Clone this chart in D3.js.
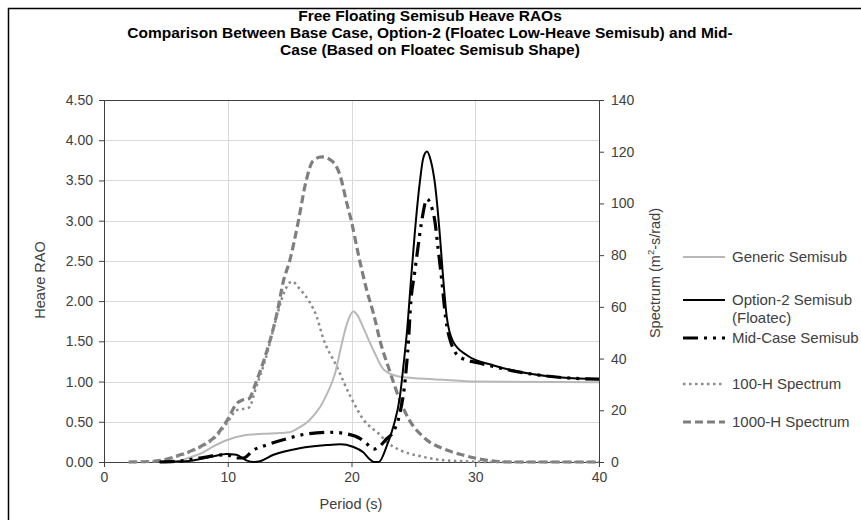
<!DOCTYPE html>
<html>
<head>
<meta charset="utf-8">
<script src="https://cdn.jsdelivr.net/npm/d3@7"></script>
<style>
  body { margin: 0; background: #fff; }
  svg { font-family: "Liberation Sans", Arial, sans-serif; }
</style>
</head>
<body>
<svg id="chart" width="861" height="520"></svg>
<script>
// Heave RAO series: [period (s), RAO]
const genericSemisub = [
  [5.5, 0], [6, 0.01], [7, 0.06], [7.75, 0.1], [8.8, 0.19], [9.9, 0.27],
  [11.25, 0.33], [12.9, 0.35], [14.2, 0.36], [15, 0.37], [15.8, 0.43],
  [16.6, 0.52], [17.45, 0.68], [18, 0.84], [18.67, 1.1], [19.2, 1.46],
  [19.7, 1.75], [20.15, 1.87], [20.5, 1.82], [20.95, 1.67], [21.8, 1.38],
  [22.6, 1.15], [23.65, 1.07], [24.5, 1.05], [26.6, 1.03], [30, 1.0], [40, 0.99]
];

const option2Semisub = [
  [4.5, 0], [6, 0.005], [7.2, 0.02], [8.8, 0.07], [9.9, 0.1], [10.7, 0.09],
  [11.5, 0.02], [12.1, 0], [12.6, 0.01], [13.7, 0.09], [15.8, 0.17],
  [18, 0.21], [19.1, 0.22], [20.1, 0.19], [20.95, 0.12], [21.5, 0.03],
  [21.8, 0], [22.2, 0], [22.85, 0.2], [23.4, 0.45], [23.9, 0.8], [24.2, 1.2],
  [24.5, 1.65], [24.8, 2.25], [25.1, 2.82], [25.5, 3.45], [25.8, 3.78],
  [26.1, 3.86], [26.4, 3.75], [26.75, 3.45], [27.15, 2.8], [27.4, 2.3],
  [27.7, 1.8], [28.2, 1.5], [29.3, 1.33], [31.5, 1.2], [34.7, 1.09],
  [37, 1.05], [40, 1.03]
];

const midCaseSemisub = [
  [4.5, 0], [6, 0.01], [7.75, 0.05], [9.9, 0.09], [10.7, 0.05], [11.25, 0.05],
  [12.1, 0.15], [13.1, 0.21], [14.8, 0.29], [16.4, 0.35], [18.3, 0.37],
  [19.6, 0.35], [20.7, 0.29], [21.2, 0.23], [21.8, 0.16], [22.3, 0.2],
  [22.85, 0.29], [23.4, 0.38], [23.9, 0.6], [24.3, 0.97], [24.6, 1.5],
  [24.8, 2.0], [25.1, 2.35], [25.4, 2.7], [25.7, 3.02], [26.1, 3.27],
  [26.4, 3.2], [26.75, 2.98], [27.0, 2.65], [27.3, 2.25], [27.6, 1.8],
  [28.0, 1.5], [28.8, 1.3], [30.6, 1.22], [34.7, 1.09], [37, 1.05], [40, 1.03]
];

// Wave spectra: [period (s), spectrum m2-s/rad]
const spectrum100H = [
  [2, 0], [4, 0.3], [5, 0.9], [6, 2.3], [7, 4], [8, 6.2], [9, 9.5], [10, 15.5],
  [10.7, 20], [11.2, 20.5], [11.7, 21], [12.3, 29], [13, 39], [14, 57],
  [14.5, 65], [15.2, 69.8], [15.8, 67], [16.6, 62], [17.2, 56], [17.7, 48],
  [18.8, 37], [19.9, 25.5], [20.95, 16.5], [22.3, 10.5], [22.8, 8],
  [23.9, 4.6], [25.5, 2.3], [27.2, 0.8], [29, 0.3], [31, 0], [40, 0]
];

const spectrum1000H = [
  [2, 0], [4, 0.3], [5, 1], [6, 2.5], [7, 4.2], [8, 6.5], [9, 10], [10, 16.5],
  [10.7, 22.5], [11.2, 24], [11.7, 24.5], [12.3, 31], [13, 40.5], [14, 58],
  [14.5, 70], [15, 77.7], [15.7, 93], [16.3, 108], [16.9, 116.5], [17.6, 118],
  [18.4, 116.5], [19.1, 110.5], [19.6, 100.5], [20, 93], [20.5, 81.5],
  [21.2, 67], [21.8, 57], [22.3, 47], [23.1, 35], [23.9, 24], [24.7, 16],
  [25.8, 9.7], [27.7, 4.6], [29, 2.7], [30.1, 1.4], [31.2, 0.5], [33, 0], [40, 0]
];

const periodTicks = [0, 10, 20, 30, 40];
const raoTicks = [0, 0.5, 1, 1.5, 2, 2.5, 3, 3.5, 4, 4.5];
const spectrumTicks = [0, 20, 40, 60, 80, 100, 120, 140];

const titleLines = [
  "Free Floating Semisub Heave RAOs",
  "Comparison Between Base Case, Option-2  (Floatec Low-Heave Semisub) and Mid-",
  "Case (Based on Floatec Semisub Shape)"
];

const svg = d3.select("#chart");

const plot = { left: 104, right: 599, top: 100, bottom: 462 };

const x = d3.scaleLinear().domain([0, 40]).range([plot.left, plot.right]);
const yRao = d3.scaleLinear().domain([0, 4.5]).range([plot.bottom, plot.top]);
const ySpec = d3.scaleLinear().domain([0, 140]).range([plot.bottom, plot.top]);

svg.append("rect")
  .attr("width", 861)
  .attr("height", 520)
  .attr("fill", "white");

// outer chart border (only top and left fall inside the picture)
svg.append("rect")
  .attr("x", 8.5)
  .attr("y", 8.5)
  .attr("width", 900)
  .attr("height", 600)
  .attr("fill", "none")
  .attr("stroke", "#000")
  .attr("stroke-width", 1.5);

// title
svg.append("g")
  .selectAll("text")
  .data(titleLines)
  .enter()
  .append("text")
  .attr("x", 430)
  .attr("y", (d, i) => 21 + i * 17)
  .attr("text-anchor", "middle")
  .attr("font-size", "15.5px")
  .attr("font-weight", "bold")
  .attr("fill", "#000")
  .text(d => d);

// gridlines
svg.append("g")
  .selectAll("line")
  .data(raoTicks.slice(1))
  .enter()
  .append("line")
  .attr("x1", plot.left)
  .attr("x2", plot.right)
  .attr("y1", d => Math.round(yRao(d)) + 0.5)
  .attr("y2", d => Math.round(yRao(d)) + 0.5)
  .attr("stroke", "#d9d9d9");

svg.append("g")
  .selectAll("line")
  .data(periodTicks.slice(1, -1))
  .enter()
  .append("line")
  .attr("x1", d => Math.round(x(d)) + 0.5)
  .attr("x2", d => Math.round(x(d)) + 0.5)
  .attr("y1", plot.top)
  .attr("y2", plot.bottom)
  .attr("stroke", "#d9d9d9");

// top border of plot
svg.append("line")
  .attr("x1", plot.left)
  .attr("x2", plot.right)
  .attr("y1", plot.top + 0.5)
  .attr("y2", plot.top + 0.5)
  .attr("stroke", "#404040");

// axes
function styleAxis(g) {
  g.selectAll(".domain").attr("stroke", "#404040");
  g.selectAll(".tick line").attr("stroke", "#404040");
  g.selectAll(".tick text")
    .attr("fill", "#404040")
    .attr("font-size", "14px")
    .attr("font-family", "'Liberation Sans', Arial, sans-serif");
}

svg.append("g")
  .attr("transform", "translate(0," + plot.bottom + ")")
  .call(d3.axisBottom(x).tickValues(periodTicks).tickSize(5).tickSizeOuter(0).tickPadding(5))
  .call(styleAxis);

svg.append("g")
  .attr("transform", "translate(" + plot.left + ",0)")
  .call(d3.axisLeft(yRao).tickValues(raoTicks).tickFormat(d3.format(".2f")).tickSize(5).tickSizeOuter(0).tickPadding(6))
  .call(styleAxis);

svg.append("g")
  .attr("transform", "translate(" + plot.right + ",0)")
  .call(d3.axisRight(ySpec).tickValues(spectrumTicks).tickSize(5).tickSizeOuter(0).tickPadding(7))
  .call(styleAxis);

// axis titles
svg.append("text")
  .attr("transform", "translate(45,280) rotate(-90)")
  .attr("text-anchor", "middle")
  .attr("font-size", "14.5px")
  .attr("fill", "#404040")
  .text("Heave RAO");

const specTitle = svg.append("text")
  .attr("transform", "translate(660,273) rotate(-90)")
  .attr("text-anchor", "middle")
  .attr("font-size", "14.5px")
  .attr("fill", "#404040");
specTitle.append("tspan").text("Spectrum (m");
specTitle.append("tspan").attr("font-size", "9.5px").attr("dy", -6).text("2");
specTitle.append("tspan").attr("dy", 6).text("-s/rad)");

svg.append("text")
  .attr("x", 351)
  .attr("y", 509)
  .attr("text-anchor", "middle")
  .attr("font-size", "14.5px")
  .attr("fill", "#404040")
  .text("Period (s)");

// series
const raoLine = d3.line()
  .x(d => x(d[0]))
  .y(d => yRao(d[1]))
  .curve(d3.curveMonotoneX);

const specLine = d3.line()
  .x(d => x(d[0]))
  .y(d => ySpec(d[1]))
  .curve(d3.curveMonotoneX);

const series = [
  { name: "Generic Semisub", data: genericSemisub, line: raoLine, color: "#b8b8b8", width: 2, dash: null },
  { name: "Option-2 Semisub", name2: "(Floatec)", data: option2Semisub, line: raoLine, color: "#000", width: 2, dash: null },
  { name: "Mid-Case Semisub", data: midCaseSemisub, line: raoLine, color: "#000", width: 3.2, dash: "15,6,3,6,3,6" },
  { name: "100-H Spectrum", data: spectrum100H, line: specLine, color: "#8a8a8a", width: 2.5, dash: "2.5,3.5" },
  { name: "1000-H Spectrum", data: spectrum1000H, line: specLine, color: "#7f7f7f", width: 3.2, dash: "8,4" }
];

const drawOrder = [4, 3, 0, 1, 2];

svg.append("g")
  .selectAll("path")
  .data(drawOrder.map(i => series[i]))
  .enter()
  .append("path")
  .attr("d", d => d.line(d.data))
  .attr("fill", "none")
  .attr("stroke", d => d.color)
  .attr("stroke-width", d => d.width)
  .attr("stroke-dasharray", d => d.dash)
  .attr("stroke-linejoin", "round");

// legend
const legendY = [257, 300, 338, 384, 422];
const legend = svg.append("g")
  .selectAll("g")
  .data(series)
  .enter()
  .append("g")
  .attr("transform", (d, i) => "translate(683," + legendY[i] + ")");

legend.append("line")
  .attr("x1", 0)
  .attr("x2", 42)
  .attr("y1", 0)
  .attr("y2", 0)
  .attr("stroke", d => d.color)
  .attr("stroke-width", d => d.width)
  .attr("stroke-dasharray", d => d.dash);

legend.append("text")
  .attr("x", 49)
  .attr("y", 5)
  .attr("font-size", "15px")
  .attr("fill", "#404040")
  .text(d => d.name);

legend.filter(d => d.name2)
  .append("text")
  .attr("x", 49)
  .attr("y", 23)
  .attr("font-size", "15px")
  .attr("fill", "#404040")
  .text(d => d.name2);
</script>
</body>
</html>
